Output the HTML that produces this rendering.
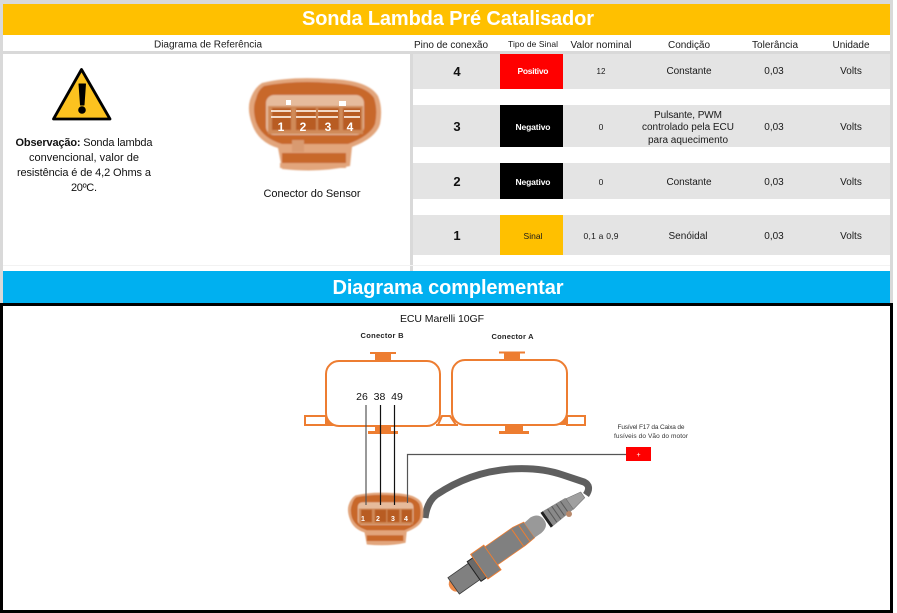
<!DOCTYPE html>
<html><head><meta charset="utf-8"><style>
html,body{margin:0;padding:0;background:#fff}
svg{display:block}
text{font-family:"Liberation Sans",sans-serif;fill:#1a1a1a;text-anchor:middle;font-size:10px}
.n{font-size:13px;font-weight:bold;fill:#111}
.b{font-size:8.5px;font-weight:bold;fill:#fff}
.o{font-size:11px;fill:#111}
.w{font-size:20px;font-weight:bold;fill:#fff}
.c{font-size:12px;font-weight:bold;fill:#fff}
.d{font-size:7px;font-weight:bold;fill:#fff}
</style></head><body>
<svg width="897" height="613" viewBox="0 0 897 613" xmlns="http://www.w3.org/2000/svg">
<defs>
<filter id="s" x="-5%" y="-5%" width="110%" height="110%"><feGaussianBlur stdDeviation="0.7"/></filter>
</defs>
<rect width="897" height="613" fill="#fff"/>
<!-- frame -->
<rect x="0" y="0" width="893" height="4" fill="#d9d9d9"/>
<rect x="0" y="0" width="3" height="303" fill="#d9d9d9"/>
<rect x="890" y="0" width="3" height="303" fill="#d9d9d9"/>
<rect x="3" y="4" width="887" height="31" fill="#ffc000"/>
<text class="w" x="448" y="25" textLength="292">Sonda Lambda Pré Catalisador</text>
<rect x="3" y="51" width="887" height="3" fill="#d9d9d9"/>
<rect x="410" y="51" width="3" height="220" fill="#d9d9d9"/>
<rect x="3" y="265" width="887" height="1" fill="#f2f2f2"/>
<text x="208" y="47.500" textLength="108">Diagrama de Referência</text>
<text x="451" y="48" textLength="74">Pino de conexão</text>
<text x="533" y="47" textLength="50" style="font-size:8.500px">Tipo de Sinal</text>
<text x="601" y="48" textLength="61">Valor nominal</text>
<text x="689" y="48" textLength="42">Condição</text>
<text x="775" y="48" textLength="46">Tolerância</text>
<text x="851" y="48" textLength="37">Unidade</text>
<!-- rows -->
<rect x="413" y="54" width="477" height="35" fill="#e4e4e4"/>
<rect x="413" y="105" width="477" height="42" fill="#e4e4e4"/>
<rect x="413" y="163" width="477" height="36" fill="#e4e4e4"/>
<rect x="413" y="215" width="477" height="40" fill="#e4e4e4"/>
<rect x="500" y="54" width="63" height="35" fill="#ff0000"/>
<rect x="500" y="105" width="63" height="42" fill="#000"/>
<rect x="500" y="163" width="63" height="36" fill="#000"/>
<rect x="500" y="215" width="63" height="40" fill="#ffc000"/>
<text class="n" x="457" y="76">4</text><text class="n" x="457" y="131">3</text><text class="n" x="457" y="186">2</text><text class="n" x="457" y="240">1</text>
<text class="b" x="533" y="74" textLength="31">Positivo</text>
<text class="b" x="533" y="130" textLength="35">Negativo</text>
<text class="b" x="533" y="185" textLength="35">Negativo</text>
<text x="533" y="239" textLength="19" style="font-size:8.500px">Sinal</text>
<text x="601" y="74" style="font-size:8px">12</text>
<text x="601" y="130" style="font-size:8.500px">0</text>
<text x="601" y="185" style="font-size:8.500px">0</text>
<text x="601" y="239" textLength="35" style="font-size:8.500px">0,1 a 0,9</text>
<text x="689" y="74" textLength="45">Constante</text>
<text x="688" y="118" textLength="68">Pulsante, PWM</text>
<text x="688" y="130" textLength="92">controlado pela ECU</text>
<text x="688" y="143" textLength="80">para aquecimento</text>
<text x="689" y="185" textLength="45">Constante</text>
<text x="688" y="239" textLength="39">Senóidal</text>
<g><text x="774" y="74">0,03</text><text x="774" y="130">0,03</text><text x="774" y="185">0,03</text><text x="774" y="239">0,03</text>
<text x="851" y="74">Volts</text><text x="851" y="130">Volts</text><text x="851" y="185">Volts</text><text x="851" y="239">Volts</text></g>
<!-- warning -->
<path d="M81.500 69.500 L110 119 H53.500 Z" fill="#fcc21f" stroke="#000" stroke-width="2.800" stroke-linejoin="round"/>
<path d="M79 84 H85.500 L84 105 H80.500 Z" fill="#000" stroke="#000" stroke-linejoin="round"/>
<circle cx="82" cy="110" r="3.800" fill="#000"/>
<text class="o" x="84" y="146" textLength="137"><tspan font-weight="bold">Observação:</tspan> Sonda lambda</text>
<text class="o" x="84" y="161" textLength="110">convencional, valor de</text>
<text class="o" x="84" y="176" textLength="134">resistência é de 4,2 Ohms a</text>
<text class="o" x="84" y="191" textLength="26">20ºC.</text>
<!-- big connector -->
<g filter="url(#s)">
<path d="M262 83 Q290 76 330 79 Q368 80 378 96 Q383 108 380 124 Q376 138 352 147 L350 166 Q320 173 282 169 L278 148 Q258 142 252 124 Q247 110 250 100 Q254 88 262 83 Z" fill="#e2a57c"/>
<path d="M264 86 Q295 80 330 83 Q365 84 374 98 Q378 110 375 124 Q370 136 348 144 H282 Q262 138 256 122 Q252 108 256 99 Q258 90 264 86 Z" fill="#c8672a"/>
<rect x="266" y="95" width="98" height="40" rx="8" fill="#e6bb9c"/>
<rect x="268" y="106" width="95" height="28" fill="#d08a58"/>
<rect x="272" y="108" width="19" height="22" fill="#b85c22"/>
<rect x="296" y="108" width="20" height="22" fill="#b85c22"/>
<rect x="318" y="108" width="21" height="22" fill="#b85c22"/>
<rect x="343" y="108" width="18" height="22" fill="#b85c22"/>
<rect x="292" y="140" width="12" height="12" fill="#d99a70"/>
<rect x="282" y="153" width="64" height="10" fill="#c8672a"/>
<rect x="280" y="163" width="66" height="5" fill="#e2a57c"/>
</g>
<g fill="#f3d9c6"><rect x="271" y="110" width="20" height="2"/><rect x="296" y="110" width="20" height="2"/><rect x="318" y="110" width="20" height="2"/><rect x="344" y="110" width="16" height="2"/>
<rect x="271" y="116" width="20" height="2"/><rect x="296" y="116" width="20" height="2"/><rect x="318" y="116" width="20" height="2"/><rect x="344" y="116" width="16" height="2"/>
<rect x="286" y="100" width="5" height="5" fill="#fff"/><rect x="339" y="101" width="7" height="5" fill="#fff"/></g>
<text class="c" x="281" y="131">1</text><text class="c" x="303" y="131">2</text><text class="c" x="328" y="131">3</text><text class="c" x="350" y="131">4</text>
<text x="312" y="197" textLength="97" style="font-size:11px;fill:#111">Conector do Sensor</text>
<!-- blue band -->
<rect x="3" y="271" width="887" height="32" fill="#00b0f0"/>
<text class="w" x="448" y="294" textLength="231">Diagrama complementar</text>
<!-- black frame -->
<rect x="1.500" y="304.500" width="890" height="307" fill="#fff" stroke="#000" stroke-width="3"/>
<!-- ECU -->
<text x="442" y="322" textLength="84" style="font-size:10.500px;fill:#111">ECU Marelli 10GF</text>
<text x="382" y="338" textLength="43" style="font-size:7.500px;font-weight:bold;fill:#222">Conector B</text>
<text x="512.500" y="339" textLength="42" style="font-size:7.500px;font-weight:bold;fill:#222">Conector A</text>
<g fill="none" stroke="#ed7d31" stroke-width="2">
<rect x="326" y="361" width="114" height="65" rx="13"/>
<rect x="452" y="360" width="115" height="65" rx="13"/>
<rect x="305" y="416" width="21" height="9"/>
<rect x="567" y="416" width="18" height="9"/>
<path d="M438 425 L442 416 H450 L456 425 M436 425 H458"/>
</g>
<g fill="#ed7d31">
<path d="M326 417 L334 426 H326 Z"/><path d="M567 417 L559 425 H567 Z"/>
<rect x="370" y="352" width="26" height="2"/><rect x="375" y="354" width="16" height="6"/>
<rect x="499" y="351.500" width="26" height="2"/><rect x="504" y="353" width="16" height="6"/>
<rect x="368" y="431" width="30" height="3"/><rect x="375" y="426" width="16" height="6"/>
<rect x="499" y="431" width="30" height="3"/><rect x="505" y="425" width="18" height="7"/>
</g>
<text x="362" y="400" style="font-size:10.500px;fill:#111">26</text>
<text x="379.500" y="400" style="font-size:10.500px;fill:#111">38</text>
<text x="397" y="400" style="font-size:10.500px;fill:#111">49</text>
<!-- cable -->
<path d="M425 518 Q427 502 436 495 Q470 472 510 469 Q540 467 563 475 L584 482 Q592 486 586 495" fill="none" stroke="#5f5f5f" stroke-width="7"/>
<!-- small connector -->
<g transform="translate(348,492) scale(0.57) translate(-249,-77)" filter="url(#s)">
<path d="M262 83 Q290 76 330 79 Q368 80 378 96 Q383 108 380 124 Q376 138 352 147 L350 166 Q320 173 282 169 L278 148 Q258 142 252 124 Q247 110 250 100 Q254 88 262 83 Z" fill="#e2a57c"/>
<path d="M264 86 Q295 80 330 83 Q365 84 374 98 Q378 110 375 124 Q370 136 348 144 H282 Q262 138 256 122 Q252 108 256 99 Q258 90 264 86 Z" fill="#c8672a"/>
<rect x="266" y="95" width="98" height="40" rx="8" fill="#e6bb9c"/>
<rect x="268" y="106" width="95" height="28" fill="#d08a58"/>
<rect x="272" y="108" width="19" height="22" fill="#b85c22"/>
<rect x="296" y="108" width="20" height="22" fill="#b85c22"/>
<rect x="318" y="108" width="21" height="22" fill="#b85c22"/>
<rect x="343" y="108" width="18" height="22" fill="#b85c22"/>
<rect x="282" y="153" width="64" height="10" fill="#c8672a"/>
</g>
<text class="d" x="363" y="521">1</text><text class="d" x="378" y="521">2</text><text class="d" x="393" y="521">3</text><text class="d" x="406" y="521">4</text>
<!-- wires -->
<g fill="none">
<path d="M366 405 V505" stroke="#555" stroke-width="1.200"/>
<path d="M380.500 405 V505" stroke="#111" stroke-width="1.200"/>
<path d="M394.500 405 V505" stroke="#111" stroke-width="1.200"/>
<path d="M407.500 503 V454.500 H626" stroke="#555" stroke-width="1.200"/>
</g>
<rect x="626" y="447" width="25" height="14" fill="#ff0000"/>
<text x="638.500" y="457" style="font-size:7px;fill:#fff">+</text>
<text x="651" y="429" textLength="67" style="font-size:6.500px;fill:#333">Fusível F17  da Caixa de</text>
<text x="651" y="438" textLength="74" style="font-size:6.500px;fill:#333">fusíveis do Vão do motor</text>
<!-- sensor -->
<g transform="translate(452,587) rotate(-35)">
<path d="M2 -7 A8 8 0 0 0 2 7 Z" fill="#ed8a4a"/>
<rect x="2" y="-10" width="25" height="20" fill="#808080" stroke="#3a3a3a" stroke-width="0.800"/>
<rect x="27" y="-12" width="7" height="24" fill="#6a6a6a" stroke="#222" stroke-width="1"/>
<rect x="34" y="-16" width="16" height="30" fill="#808080" stroke="#ed7d31" stroke-width="1"/>
<path d="M50 -14 H84 L96 -12 V7 L84 8 H50 Z" fill="#808080" stroke="#ed7d31" stroke-width="0.800"/>
<path d="M82 -13 V8 M90 -12 V7" stroke="#ed7d31" fill="none"/>
<path d="M96 -11 L104 -12 Q114 -11 114 -2 Q114 6 104 7 L96 7 Z" fill="#999"/>
<rect x="115" y="-10" width="3" height="18" fill="#222"/>
<path d="M118 -10 L144 -8 V6 L118 8 Z" fill="#8a8a8a"/>
<path d="M123 -9 V7 M128 -9 V7 M133 -8 V6 M138 -8 V6" stroke="#5a5a5a"/>
<path d="M144 -7 L160 -4 V3 L144 6 Z" fill="#a0a0a0" stroke="#666" stroke-width="0.500"/>
</g>
<circle cx="569" cy="514" r="3" fill="#b98a6c"/>
</svg>
</body></html>
